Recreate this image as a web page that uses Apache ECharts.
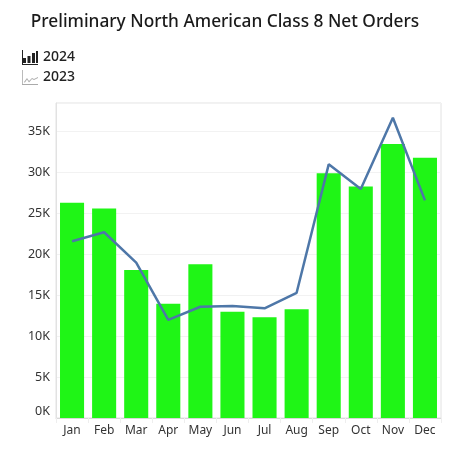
<!DOCTYPE html>
<html>
<head>
<meta charset="utf-8">
<script src="https://cdn.jsdelivr.net/npm/echarts@6/dist/echarts.min.js"></script>
<style>html,body{margin:0;padding:0;background:#fff}#c{width:450px;height:450px}</style>
</head>
<body>
<div id="c"></div>
<script>
const categories = ['Jan','Feb','Mar','Apr','May','Jun','Jul','Aug','Sep','Oct','Nov','Dec'];
const orders2024 = [26300, 25600, 18100, 13950, 18800, 13000, 12300, 13300, 29900, 28300, 33500, 31800];
const orders2023 = [21600, 22700, 19000, 12000, 13600, 13700, 13400, 15300, 31000, 28000, 36700, 26600];
const titleText = 'Preliminary North American Class 8 Net Orders';

const barIcon = 'path://M0,14 L16,14 L16,15 L0,15 Z M1,8 L4,8 L4,13 L1,13 Z M5.5,6 L8.5,6 L8.5,13 L5.5,13 Z M10,3 L13,3 L13,13 L10,13 Z M14,1 L16,1 L16,13 L14,13 Z M0,0 L1,0 L1,15 L0,15 Z';
const lineIcon = 'path://M0,0 L0.8,0 L0.8,14 L16,14 L16,15 L0,15 Z M2,12 L5,8 L7,11 L10,8 L12,9 L16,7 L16,8 L12,10 L10,9 L7,12.5 L5,9.5 L2.8,12.8 Z';

const chart = echarts.init(document.getElementById('c'));
chart.setOption({
  animation: false,
  textStyle: { fontFamily: 'Noto Sans' },
  title: {
    text: titleText, left: 'center', top: 9,
    textStyle: { fontSize: 17.3, fontWeight: 500, color: '#1a1a1a', fontFamily: 'Noto Sans' }
  },
  legend: {
    orient: 'vertical', left: 17, top: 45, itemGap: 5,
    itemWidth: 16, itemHeight: 15,
    textStyle: { fontSize: 14, color: '#222', fontWeight: 500 },
    data: [
      { name: '2024', icon: barIcon, itemStyle: { color: '#222' } },
      { name: '2023', icon: lineIcon, itemStyle: { color: '#aaa' } }
    ]
  },
  grid: { left: 56, right: 9, top: 103, bottom: 32, show: true, borderColor: '#e2e2e2', borderWidth: 1 },
  xAxis: {
    type: 'category', data: categories,
    axisLine: { lineStyle: { color: '#d8d8d8' } },
    axisTick: { show: true, lineStyle: { color: '#eee' }, length: 5 },
    axisLabel: { color: '#333', fontSize: 12, margin: 7, interval: 0 }
  },
  yAxis: {
    type: 'value', min: 0, max: 38500, interval: 5000,
    axisLine: { show: true, lineStyle: { color: '#e2e2e2' } },
    axisTick: { show: false },
    splitLine: { lineStyle: { color: '#f2f2f2' } },
    axisLabel: {
      color: '#333', fontSize: 12.5, margin: 6, showMaxLabel: false,
      verticalAlignMinLabel: 'bottom',
      formatter: v => (v / 1000) + 'K'
    }
  },
  series: [
    { name: '2024', type: 'bar', data: orders2024, barCategoryGap: '25%',
      itemStyle: { color: '#1ff516' } },
    { name: '2023', type: 'line', data: orders2023, showSymbol: false, symbol: 'none',
      lineStyle: { color: '#4e77a8', width: 2.5 }, itemStyle: { color: '#4e77a8' } }
  ]
});
</script>
</body>
</html>
